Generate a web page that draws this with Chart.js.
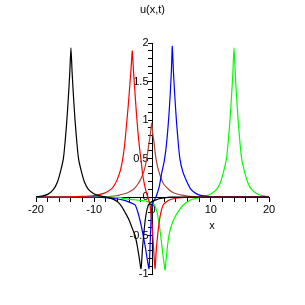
<!DOCTYPE html>
<html>
<head>
<meta charset="utf-8">
<script src="https://cdn.jsdelivr.net/npm/chart.js@4/dist/chart.umd.min.js"></script>
<style>
html,body{margin:0;padding:0;background:#fff;}
#wrap{width:305px;height:305px;position:relative;}
</style>
</head>
<body>
<div id="wrap"><canvas id="c" width="305" height="305"></canvas></div>
<script>
// ---- data ----
const chartTitle = 'u(x,t)';
const xAxisTitle = 'x';
const xRange = [-20, 20];
const yRange = [-1, 2];
const xLabelTicks = [-20, -10, 0, 10, 20];
const yLabelTicks = [-1, -0.5, 0, 0.5, 1, 1.5, 2];

const blackX = [-20,-19,-18,-17,-16.3,-15.8,-15.3,-15,-14.7,-14.4,-14.2,-14,-13.8,-13.6,-13.3,-13,-12.7,-12.2,-11.7,-11,-10,-9,-8,-7,-6,-5.3,-4.7,-4,-3.5,-3,-2.6,-2.3,-1.97,-1.7,-1.4,-1.1,-0.7,-0.3,0,0.5,1,2,3,20];
const blackY = [0.005,0.012,0.035,0.1,0.2,0.33,0.5,0.72,1.0,1.35,1.62,1.94,1.62,1.35,1.0,0.72,0.5,0.33,0.2,0.1,0.04,0.015,0.0,-0.02,-0.06,-0.12,-0.2,-0.3,-0.4,-0.5,-0.64,-0.78,-0.93,-0.65,-0.4,-0.22,-0.1,-0.07,-0.055,-0.04,-0.025,-0.01,0,0];

const redX = [-20,-14,-12,-10,-9,-8,-7,-6.5,-6,-5.5,-5.1,-4.75,-4.45,-4.15,-3.9,-3.67,-3.47,-3.27,-3.05,-2.77,-2.47,-2.2,-1.95,-1.7,-1.4,-1.1,-0.8,-0.45,-0.15,0.15,0.43,0.65,0.9,1.2,1.5,1.85,2.4,3,4,5,6,8,20];
const redY = [0,0.002,0.008,0.02,0.035,0.06,0.11,0.16,0.24,0.35,0.5,0.7,0.95,1.2,1.45,1.68,1.9,1.65,1.4,1.1,0.82,0.62,0.47,0.3,0.17,0.07,0.0,-0.1,-0.3,-0.62,-0.93,-0.68,-0.48,-0.3,-0.18,-0.1,-0.06,-0.035,-0.015,-0.006,-0.002,0,0];

const blueX = [-20,-10,-8,-6,-5,-4,-3.4,-3,-2.5,-2,-1.6,-1.3,-1.0,-0.8,-0.6,-0.45,-0.3,-0.15,0.1,0.35,0.6,0.9,1.2,1.6,2.0,2.3,2.6,2.85,3.05,3.25,3.4,3.6,3.8,4.1,4.4,4.7,5.2,5.9,6.6,7.5,8.5,10,12,20];
const blueY = [0,-0.002,-0.008,-0.025,-0.04,-0.065,-0.085,-0.1,-0.2,-0.35,-0.5,-0.62,-0.76,-0.86,-0.93,-0.7,-0.4,-0.15,-0.07,-0.03,0.0,0.07,0.15,0.32,0.46,0.62,0.85,1.1,1.35,1.65,1.96,1.62,1.35,1.0,0.72,0.5,0.33,0.2,0.1,0.045,0.018,0.005,0.001,0];

const greenX = [-20,-8,-6,-3.9,-3,-2,-1,-0.7,-0.3,0,0.3,0.6,0.9,1.2,1.5,1.8,2.0,2.15,2.35,2.6,2.9,3.3,3.86,4.5,5.2,6,7,8,9,10,11,11.7,12.2,12.7,13,13.3,13.6,13.8,14,14.2,14.4,14.7,15,15.3,15.8,16.3,17,18,19,20];
const greenY = [0,0,-0.005,-0.03,-0.035,-0.045,-0.055,-0.06,-0.075,-0.085,-0.1,-0.15,-0.24,-0.38,-0.56,-0.76,-0.87,-0.95,-0.8,-0.62,-0.47,-0.36,-0.26,-0.18,-0.11,-0.06,-0.025,-0.005,0.015,0.04,0.1,0.2,0.33,0.5,0.72,1.0,1.35,1.62,1.94,1.62,1.35,1.0,0.72,0.5,0.33,0.2,0.1,0.04,0.015,0.005];

const brownX = [-20,-10,-8,-6,-5,-4.2,-3.5,-3,-2.5,-2.1,-1.8,-1.5,-1.25,-1.0,-0.8,-0.6,-0.4,-0.14,0.05,0.25,0.45,0.6,0.85,1.1,1.35,1.6,2.0,2.5,3,3.5,4.2,5,6,7,8,10,20];
const brownY = [0,0.001,0.005,0.02,0.04,0.06,0.09,0.12,0.17,0.22,0.27,0.33,0.4,0.5,0.6,0.7,0.8,0.96,0.82,0.72,0.58,0.5,0.4,0.33,0.27,0.22,0.16,0.12,0.085,0.06,0.04,0.025,0.012,0.005,0.002,0,0];

const seriesNames = ['black', 'red', 'blue', 'green', 'brown'];
const seriesColors = ['#000000', '#ff0000', '#0000ff', '#00ff00', '#a84438'];

// ---- styling / layout (not data) ----
const FONT = {family: '"Liberation Sans", Arial, sans-serif', size: 11};
const xTitleAt = {x: 10.2, y: -0.37};
const yLabelGap = ' \u200A';

function pts(xs, ys) { return xs.map((x, i) => ({x: x, y: ys[i]})); }
const seriesData = [pts(blackX, blackY), pts(redX, redY), pts(blueX, blueY), pts(greenX, greenY), pts(brownX, brownY)];

const xTitlePlugin = {
  id: 'xTitle',
  afterDraw(chart) {
    const ctx = chart.ctx;
    ctx.save();
    ctx.font = FONT.size + 'px ' + FONT.family;
    ctx.fillStyle = '#000';
    ctx.textAlign = 'center';
    ctx.textBaseline = 'middle';
    ctx.fillText(xAxisTitle, chart.scales.x.getPixelForValue(xTitleAt.x), chart.scales.y.getPixelForValue(xTitleAt.y));
    ctx.restore();
  }
};

new Chart(document.getElementById('c'), {
  type: 'scatter',
  data: {
    datasets: seriesData.map((d, i) => ({
      label: seriesNames[i],
      data: d,
      showLine: true,
      borderColor: seriesColors[i],
      backgroundColor: seriesColors[i],
      borderWidth: 1.2,
      pointRadius: 0,
      tension: 0.2,
      fill: false
    }))
  },
  options: {
    responsive: true,
    maintainAspectRatio: false,
    animation: false,
    events: [],
    layout: {padding: {left: 36, right: 36, top: 0, bottom: 31}},
    plugins: {
      legend: {display: false},
      tooltip: {enabled: false},
      title: {
        display: true,
        text: chartTitle,
        color: '#000',
        font: {family: FONT.family, size: FONT.size, weight: 'normal'},
        padding: {top: 3, bottom: 27}
      }
    },
    scales: {
      x: {
        type: 'linear',
        position: {y: 0},
        min: xRange[0], max: xRange[1],
        afterFit(s) { s.height = 0; },
        border: {display: true, color: '#000', width: 1},
        grid: {drawOnChartArea: false, drawTicks: true, tickLength: 4, color: '#000'},
        ticks: {
          stepSize: 2, autoSkip: false, maxRotation: 0, color: '#000', padding: 2,
          font: FONT,
          callback(v) { const r = Math.round(v); return xLabelTicks.includes(r) ? String(r) : ''; }
        }
      },
      y: {
        type: 'linear',
        position: {x: 0},
        min: yRange[0], max: yRange[1],
        afterFit(s) { s.width = 0; },
        border: {display: true, color: '#000', width: 1},
        grid: {drawOnChartArea: false, drawTicks: true, tickLength: 4, color: '#000'},
        ticks: {
          stepSize: 0.1, autoSkip: false, color: '#000', padding: 2,
          font: FONT,
          callback(v) { const r = Math.round(v * 10) / 10; return yLabelTicks.includes(r) ? String(r) + yLabelGap : ''; }
        }
      }
    }
  },
  plugins: [xTitlePlugin]
});
</script>
</body>
</html>
